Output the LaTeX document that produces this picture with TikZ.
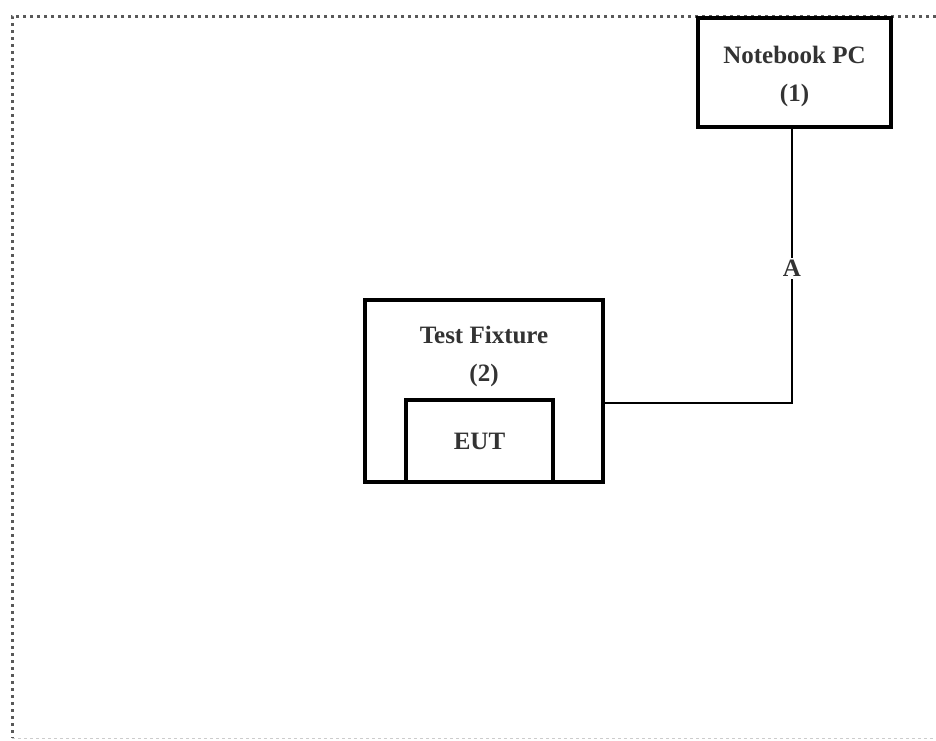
\documentclass[tikz,border=0pt]{standalone}
\usepackage{fontspec}
\setmainfont{Liberation Serif}
\usetikzlibrary{positioning}

\definecolor{txtgray}{HTML}{333333}
\tikzset{
  box/.style={draw, line width=3.2pt, fill=white, inner sep=0pt},
  boxtext/.style={text=txtgray, font=\fontsize{25}{38}\selectfont\bfseries, align=center},
  cable/.style={line width=2.4pt},
  frame/.style={line width=3pt, gray!70!black, dash pattern=on 2.8pt off 4.2pt}
}

\begin{document}
\begin{tikzpicture}[x=1pt, y=-1pt]
  \useasboundingbox[fill=white] (0,0) rectangle (936,740);

  % Marco punteado
  \draw[frame] (936,16) -- (12,16) -- (12,738);
  \draw[gray!40, line width=0.8pt, dashed] (12,738) -- (936,738);

  % Notebook PC
  \node[box, minimum width=193pt, minimum height=109pt] (pc) at (794.5,72.5) {};
  \node[boxtext] (pctxt) at (794.5,76) {Notebook PC\\(1)};

  % Test Fixture con EUT dentro
  \node[box, minimum width=238pt, minimum height=182pt] (fixture) at (484,391) {};
  \node[boxtext] (fixtxt) at (484,356) {Test Fixture\\(2)};
  \node[box, minimum width=147pt, minimum height=82pt] (eut) at (479.5,441) {};
  \node[boxtext] (euttxt) at (eut) {EUT};

  % Cable A
  \coordinate (fixout) at ([yshift=-12pt]fixture.east);
  \draw[cable] (fixout) -| ([xshift=-2.5pt]pc.south)
    node[pos=0.745, fill=white, inner sep=2pt, boxtext] (cablea) {A};
\end{tikzpicture}
\end{document}
